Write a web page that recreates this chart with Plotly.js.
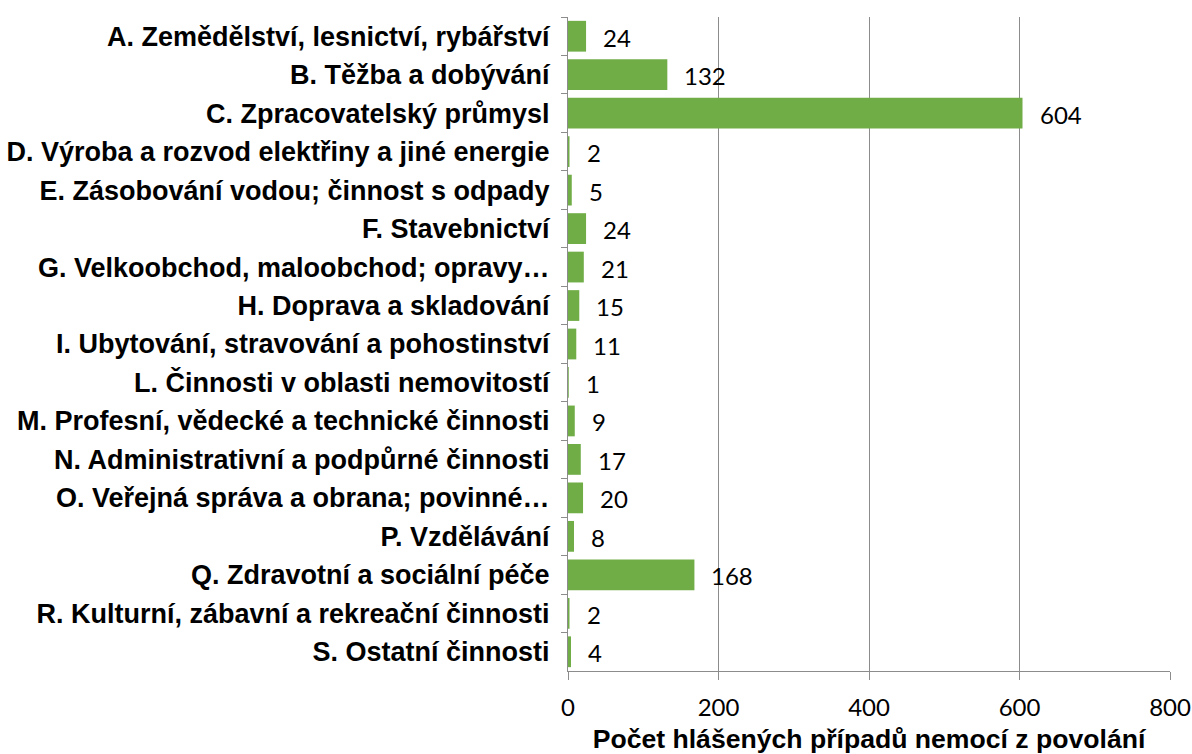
<!DOCTYPE html>
<html>
<head>
<meta charset="utf-8">
<script src="https://cdn.plot.ly/plotly-3.0.1.min.js"></script>
<style>
  html, body { margin: 0; padding: 0; background: #fff; }
  #chart { width: 1192px; height: 754px; }
</style>
</head>
<body>
<div id="chart"></div>
<script>
// categories (NACE sections) and reported cases
const categories = [
  'A. Zemědělství, lesnictví, rybářství',
  'B. Těžba a dobývání',
  'C. Zpracovatelský průmysl',
  'D. Výroba a rozvod elektřiny a jiné energie',
  'E. Zásobování vodou; činnost s odpady',
  'F. Stavebnictví',
  'G. Velkoobchod, maloobchod; opravy…',
  'H. Doprava a skladování',
  'I. Ubytování, stravování a pohostinství',
  'L. Činnosti v oblasti nemovitostí',
  'M. Profesní, vědecké a technické činnosti',
  'N. Administrativní a podpůrné činnosti',
  'O. Veřejná správa a obrana; povinné…',
  'P. Vzdělávání',
  'Q. Zdravotní a sociální péče',
  'R. Kulturní, zábavní a rekreační činnosti',
  'S. Ostatní činnosti'
];
const cases = [24, 132, 604, 2, 5, 24, 21, 15, 11, 1, 9, 17, 20, 8, 168, 2, 4];

const xTicks = [0, 200, 400, 600, 800];

const numFont = { family: 'Lato, "Open Sans", sans-serif', size: 24, color: '#000' };
const boldFont = { family: '"Liberation Sans", Arial, sans-serif', size: 27, color: '#000', weight: 'bold' };

const trace = {
  type: 'bar',
  orientation: 'h',
  x: cases,
  y: categories,
  marker: { color: '#70ad47' },
  hoverinfo: 'x+y'
};

// value labels to the right of each bar
const labels = cases.map((v, i) => ({
  x: v,
  y: categories[i],
  text: String(v),
  xanchor: 'left',
  yanchor: 'middle',
  xshift: 15,
  yshift: -1,
  showarrow: false,
  font: numFont
}));

const layout = {
  width: 1192,
  height: 754,
  margin: { l: 568, r: 22, t: 17, b: 83 },
  paper_bgcolor: '#ffffff',
  plot_bgcolor: '#ffffff',
  showlegend: false,
  bargap: 0.2,
  xaxis: {
    range: [0, 800],
    tickvals: xTicks,
    ticktext: xTicks.map(String),
    showgrid: true,
    gridcolor: '#8c8c8c',
    gridwidth: 1,
    zeroline: false,
    showline: true,
    linecolor: '#8c8c8c',
    ticks: 'outside',
    ticklen: 8,
    tickcolor: '#8c8c8c',
    ticklabelstandoff: 7,
    tickfont: numFont,
    title: {
      text: 'Počet hlášených případů nemocí z povolání',
      font: { family: '"Liberation Sans", Arial, sans-serif', size: 26.6, color: '#000', weight: 'bold' },
      standoff: 12
    }
  },
  yaxis: {
    type: 'category',
    autorange: 'reversed',
    showgrid: false,
    zeroline: false,
    showline: true,
    linecolor: '#8c8c8c',
    ticks: 'outside',
    tickson: 'boundaries',
    ticklen: 6,
    tickcolor: '#8c8c8c',
    ticklabelstandoff: 12,
    tickfont: boldFont
  },
  annotations: labels
};

Plotly.newPlot('chart', [trace], layout, { displayModeBar: false, staticPlot: true });
</script>
</body>
</html>
